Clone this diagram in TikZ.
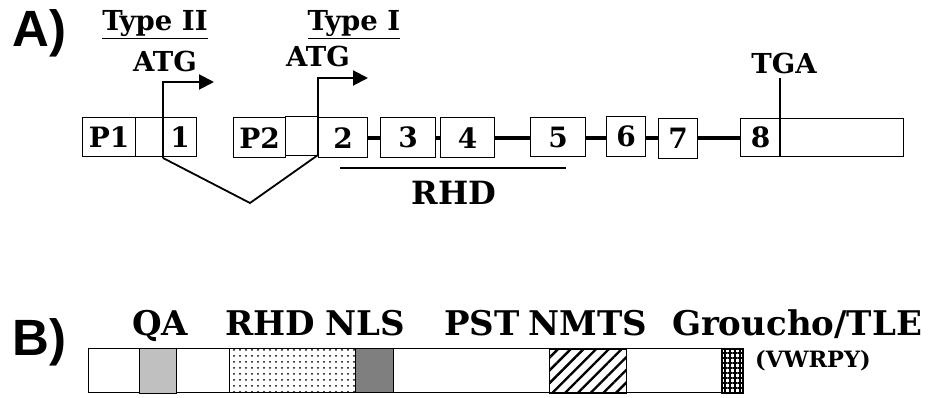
\documentclass[tikz,border=0pt]{standalone}
\usepackage{fontspec}
\setmainfont{DejaVu Serif}
\newfontfamily\panelsans{Liberation Sans}
\usetikzlibrary{arrows.meta,patterns,patterns.meta}
\newcommand\typefnt{\fontsize{27.5}{28}\selectfont\bfseries}
\newcommand\boxfnt{\fontsize{28}{28}\selectfont\bfseries}
\newcommand\rhdfnt{\fontsize{32}{32}\selectfont\bfseries}
\newcommand\domfnt{\fontsize{34}{34}\selectfont\bfseries}
\newcommand\smallfnt{\fontsize{22.5}{22.5}\selectfont\bfseries}
\newcommand\panelfnt{\panelsans\fontsize{51}{51}\selectfont\bfseries}
\definecolor{qagray}{HTML}{C0C0C0}
\definecolor{nlsgray}{HTML}{7F7F7F}
\begin{document}
\begin{tikzpicture}[x=1pt,y=-1pt,
  exon/.style={draw, line width=1.3pt, inner sep=0pt, anchor=north west, font=\boxfnt, minimum height=39pt},
  intron/.style={line width=4pt},
  seg/.style={draw, line width=1.3pt, inner sep=0pt, anchor=north west, minimum height=44pt},
  lbl/.style={anchor=base, inner sep=0pt},
  startarrow/.style={line width=2pt, -{Triangle[length=15pt,width=15pt]}},
  thinline/.style={line width=1.8pt}
]
\useasboundingbox (0,0) rectangle (940,398);
% ---------- Panel A ----------
\node[lbl, anchor=base west, font=\panelfnt] (pA) at (12,47) {A)};
\node[lbl, font=\typefnt] (type2) at (155,31) {\underline{Type II}};
\node[lbl, font=\typefnt] (type1) at (354,31) {\underline{Type I}};
\node[lbl, font=\typefnt] (atg1) at (165,72) {ATG};
\node[lbl, font=\typefnt] (atg2) at (318,67) {ATG};
\node[lbl, font=\typefnt] (tga) at (784,74) {TGA};

\node[exon, minimum width=53pt] (p1) at (82,117) {P1};
\node[exon, minimum width=28pt] (b1) at (135,117) {};
\node[exon, minimum width=33pt] (e1) at (163,117) {1};
\node[exon, minimum width=52pt, minimum height=40pt] (p2) at (233,117) {P2};
\node[exon, minimum width=33pt] (b2) at (285,116) {};
\node[exon, minimum width=49pt, minimum height=40pt] (e2) at (318,117) {2};
\node[exon, minimum width=55pt, minimum height=40pt] (e3) at (380,117) {3};
\node[exon, minimum width=54pt, minimum height=40pt] (e4) at (440,117) {4};
\node[exon, minimum width=55pt] (e5) at (530,117) {5};
\node[exon, minimum width=39pt, minimum height=40pt] (e6) at (606,116) {6};
\node[exon, minimum width=39pt, minimum height=40pt] (e7) at (658,118) {7};
\node[exon, minimum width=40pt, minimum height=38pt] (e8) at (740,118) {8};
\node[exon, minimum width=123pt, minimum height=38pt] (utr) at (780,118) {};

\coordinate (iy) at (0,138);
\draw[intron] (e2.east |- iy) -- (e3.west |- iy);
\draw[intron] (e3.east |- iy) -- (e4.west |- iy);
\draw[intron] (e4.east |- iy) -- (e5.west |- iy);
\draw[intron] (e5.east |- iy) -- (e6.west |- iy);
\draw[intron] (e6.east |- iy) -- (e7.west |- iy);
\draw[intron] (e7.east |- iy) -- (e8.west |- iy);

% start sites and splicing
\coordinate (s1) at (163,158);
\coordinate (c1) at (163,82);
\coordinate (t1) at (214,82);
\coordinate (vee) at (250,203);
\coordinate (s2) at (318,155);
\coordinate (c2) at (318,78);
\coordinate (t2) at (368,78);
\draw[startarrow] (s1) -- (c1) -- (t1);
\draw[startarrow] (s2) -- (c2) -- (t2);
\draw[thinline] (s1) -- (vee) -- (s2);

% stop codon
\coordinate (stopTop) at (780,78);
\draw[line width=2pt] (stopTop) -- (utr.south west);

% RHD span
\coordinate (rhdL) at (340,168);
\coordinate (rhdR) at (566,168);
\draw[thinline] (rhdL) -- (rhdR);
\node[lbl, font=\rhdfnt] (rhdA) at (454,205) {RHD};

% ---------- Panel B ----------
\node[lbl, anchor=base west, font=\panelfnt] (pB) at (12,355) {B)};
\node[seg, minimum width=654pt] (bar) at (88,348) {};
\node[seg, fill=qagray, minimum width=37pt, minimum height=45pt] (qa) at (139,348) {};
\node[seg, pattern={Dots[distance=6pt,radius=1pt]}, minimum width=126pt] (rhd) at (229,348) {};
\node[seg, fill=nlsgray, minimum width=38pt] (nls) at (355,348) {};
\node[seg, pattern={Lines[angle=45,distance=9pt,line width=2.4pt]}, minimum width=77pt] (nmts) at (548,348) {};
\node[seg, pattern={Hatch[angle=0,distance=5pt,line width=2pt]}, minimum width=21pt] (gro) at (721,348) {};

\node[lbl, font=\domfnt] (tQA) at (160,335) {QA};
\node[lbl, font=\domfnt] (tRHD) at (270,335) {RHD};
\node[lbl, font=\domfnt] (tNLS) at (365,335) {NLS};
\node[lbl, font=\domfnt] (tPST) at (482,335) {PST};
\node[lbl, font=\domfnt] (tNMTS) at (588,335) {NMTS};
\node[lbl, font=\domfnt] (tGRO) at (797,335) {Groucho/TLE};
\node[lbl, font=\smallfnt] (tVW) at (813,367) {(VWRPY)};
\end{tikzpicture}
\end{document}
